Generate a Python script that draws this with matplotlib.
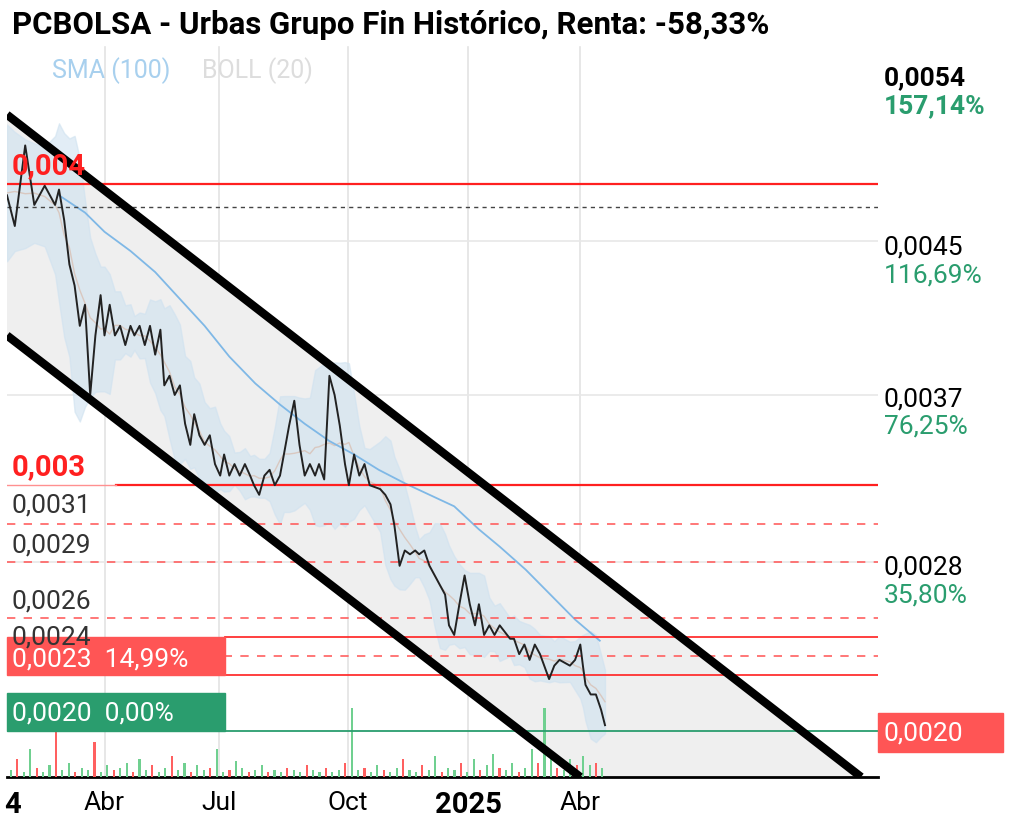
import numpy as np
import pandas as pd
import matplotlib.pyplot as plt
from matplotlib.patches import Rectangle

plt.rcParams['font.family'] = ['Roboto', 'DejaVu Sans']

# days relative to 2025-01-01, price in EUR
days = [-355, -349, -341, -334, -326, -318, -315, -311, -307, -303, -299, -295, -291, -287,
        -283, -280, -276, -272, -268, -264, -260, -257, -253, -249, -245, -241, -237, -234,
        -230, -226, -222, -218, -214, -211, -207, -203, -199, -195, -191, -188, -184, -180,
        -176, -172, -168, -165, -161, -157, -153, -149, -145, -142, -138, -134, -130, -126,
        -122, -118, -115, -111, -107, -103, -99, -95, -92, -88, -84, -80, -76, -68, -64,
        -60, -57, -53, -49, -45, -41, -38, -34, -30, -26, -22, -18, -15, -11, -7, -3, 1,
        5, 8, 12, 16, 20, 24, 32, 35, 39, 43, 47, 51, 55, 62, 66, 70, 78, 82, 86, 88, 90,
        94, 98, 102, 105]
price = [0.00479, 0.00463, 0.00505, 0.00474, 0.00484, 0.00474, 0.00482, 0.00466, 0.00443,
         0.00432, 0.00411, 0.00422, 0.00375, 0.00406, 0.00427, 0.00406, 0.00422, 0.00406,
         0.00411, 0.00401, 0.00411, 0.00406, 0.00411, 0.00401, 0.00411, 0.00396, 0.00409,
         0.00380, 0.00385, 0.00375, 0.00380, 0.00360, 0.00349, 0.00365, 0.00354, 0.00349,
         0.00354, 0.00339, 0.00333, 0.00344, 0.00333, 0.00339, 0.00333, 0.00339, 0.00333,
         0.00328, 0.00323, 0.00333, 0.00336, 0.00328, 0.00333, 0.00344, 0.00359, 0.00372,
         0.00349, 0.00333, 0.00339, 0.00333, 0.00339, 0.00331, 0.00385, 0.00375, 0.00359,
         0.00339, 0.00328, 0.00344, 0.00333, 0.00339, 0.00328, 0.00326, 0.00323, 0.00318,
         0.00307, 0.00286, 0.00294, 0.00292, 0.00294, 0.00292, 0.00294, 0.00286, 0.00281,
         0.00276, 0.00271, 0.00255, 0.00250, 0.00266, 0.00281, 0.00266, 0.00255, 0.00266,
         0.00250, 0.00255, 0.00250, 0.00255, 0.00248, 0.00248, 0.00240, 0.00245, 0.00237,
         0.00245, 0.00240, 0.00227, 0.00234, 0.00237, 0.00234, 0.00237, 0.00245, 0.00234,
         0.00224, 0.00219, 0.00219, 0.00211, 0.00203]

sma_days = [-315, -295, -280, -260, -241, -222, -203, -184, -164, -145, -126, -107, -88,
            -69, -49, -30, -11, 8, 24, 44, 63, 82, 101]
sma_vals = [0.00479, 0.00470, 0.00460, 0.00450, 0.00439, 0.00425, 0.00411, 0.00395, 0.00381,
            0.00370, 0.00360, 0.00351, 0.00344, 0.00336, 0.00329, 0.00323, 0.00317, 0.00305,
            0.00296, 0.00284, 0.00271, 0.00258, 0.00247]

chan_days = [-355, 302]
chan_upper = [0.00521, 0.00176]
chan_lower_days = [-355, 86]
chan_lower = [0.00406, 0.00176]

lvl_solid = [0.00485, 0.00328, 0.00249, 0.00229]
lvl_dashed = [0.00308, 0.00288, 0.00259, 0.00239]
lvl_gray = 0.00473
lvl_base = 0.00200

vol = [3, 8, 2, 12, 4, 2, 5, 20, 3, 6, 2, 4, 3, 15, 2, 5, 3, 4, 6, 2, 8, 3, 5, 2, 4, 9,
       3, 6, 2, 5, 3, 4, 12, 2, 3, 7, 4, 2, 3, 5, 2, 3, 2, 4, 3, 2, 5, 3, 2, 4, 2, 3, 6,
       30, 3, 4, 2, 5, 3, 2, 4, 8, 3, 2, 5, 3, 9, 2, 4, 3, 6, 2, 8, 3, 5, 10, 4, 3, 6, 2,
       4, 12, 6, 30, 10, 4, 3, 8, 5, 9, 5, 6, 4]
vol_up = [i % 3 != 1 for i in range(len(vol))]

xtick_pos = [-351, -280, -192, -93, 0, 86]
xtick_lab = ['4', 'Abr', 'Jul', 'Oct', '2025', 'Abr']
right_prices = ['0,0054', '0,0045', '0,0037', '0,0028']
right_pcts = ['157,14%', '116,69%', '76,25%', '35,80%']

W, H = 1020, 833
fig = plt.figure(figsize=(W / 100, H / 100), dpi=100)
ax = fig.add_axes([7 / W, 1 - 777 / H, 871 / W, 732 / H])
ylo, yhi = 0.00176, 0.005573
ax.set_xlim(-355, 315)
ax.set_ylim(ylo, yhi)

def fx(px):
    return px / W

def fy(py):
    return 1 - py / H

# grid
for t in xtick_pos[1:]:
    ax.axvline(t, color='#e3e3e3', lw=1.2, zorder=0)
for yv in [0.00455, 0.00375, 0.00288]:
    ax.axhline(yv, color='#e8e8e8', lw=1.2, zorder=0)

# channel
xu = np.array(chan_days, float)
yu = np.array(chan_upper)
xl = np.array(chan_lower_days, float)
yl = np.array(chan_lower)
xx = np.linspace(-355, 315, 200)
slope_u = (yu[1] - yu[0]) / (xu[1] - xu[0])
slope_l = (yl[1] - yl[0]) / (xl[1] - xl[0])
up = yu[0] + slope_u * (xx - xu[0])
lo = yl[0] + slope_l * (xx - xl[0])
ax.fill_between(xx, np.maximum(lo, ylo), np.maximum(up, ylo), color='#efefef', zorder=1)
ax.plot(xu, yu, color='black', lw=6, zorder=6, solid_capstyle='butt')
ax.plot(xl, yl, color='black', lw=6, zorder=6, solid_capstyle='butt')

# bollinger
s = pd.Series(price)
mid = s.rolling(8, min_periods=1, center=True).mean()
sd = s.rolling(8, min_periods=2, center=True).std().fillna(0.0001)
ax.fill_between(days, mid + 2 * sd, mid - 2 * sd, color='#cfe2f0', alpha=0.6, zorder=2)
ax.plot(days, mid, color='#d9c8c0', lw=1, zorder=2)
ax.plot(sma_days, sma_vals, color='#7fb8e6', lw=1.3, zorder=3)
ax.plot(days, price, color='#222222', lw=1.4, zorder=5)

# levels
ax.axhline(lvl_solid[0], color='#ff2020', lw=1.6, zorder=4)
ax.plot([-271, 315], [lvl_solid[1]] * 2, color='#ff2020', lw=1.6, zorder=4)
ax.plot([-355, -271], [lvl_solid[1]] * 2, color='#ff9090', lw=1, zorder=4)
for v in lvl_solid[2:]:
    ax.plot([-187, 315], [v, v], color='#ff3030', lw=1.3, zorder=4)
for v in lvl_dashed:
    ax.axhline(v, color='#ff6060', lw=1.2, ls=(0, (5, 5)), zorder=4)
ax.axhline(lvl_gray, color='#444444', lw=1, ls=(0, (3, 3)), zorder=4)
ax.axhline(lvl_base, color='#2a9d6e', lw=1.3, zorder=4)

# volume
vx = np.linspace(-352, 103, len(vol))
vcol = ['#70d090' if u else '#ff6060' for u in vol_up]
ax.bar(vx, np.array(vol) * 0.000012, bottom=ylo, width=1.6, color=vcol, zorder=3)

for sp in ['top', 'left', 'right']:
    ax.spines[sp].set_visible(False)
ax.spines['bottom'].set_linewidth(2)
ax.set_yticks([])
ax.set_xticks(xtick_pos)
ax.set_xticklabels(xtick_lab, fontsize=19)
ax.tick_params(axis='x', length=0, pad=10)
for lab in ax.get_xticklabels():
    if lab.get_text() in ('4', '2025'):
        lab.set_fontweight('bold')
        lab.set_fontsize(21)

# left labels
fig.text(fx(12), fy(166), '0,004', color='#ff2020', fontsize=21, fontweight='bold', va='center')
fig.text(fx(12), fy(467), '0,003', color='#ff2020', fontsize=21, fontweight='bold', va='center')
for yy, t in [(506, '0,0031'), (546, '0,0029'), (601, '0,0026'), (638, '0,0024')]:
    fig.text(fx(12), fy(yy), t, color='#333333', fontsize=19, va='center')
fig.patches.append(Rectangle((fx(7), fy(675)), fx(218), 38 / H, color='#ff5555',
                             transform=fig.transFigure, zorder=2))
fig.text(fx(12), fy(660), '0,0023  14,99%', color='white', fontsize=19, va='center', zorder=3)
fig.patches.append(Rectangle((fx(7), fy(731)), fx(218), 38 / H, color='#2a9d6e',
                             transform=fig.transFigure, zorder=2))
fig.text(fx(12), fy(713), '0,0020  0,00%', color='white', fontsize=19, va='center', zorder=3)

# right labels
rys = [78, 247, 399, 567]
for i, (p, q) in enumerate(zip(right_prices, right_pcts)):
    bold = 'bold' if i == 0 else 'normal'
    fig.text(fx(884), fy(rys[i]), p, color='black', fontsize=19, fontweight=bold, va='center')
    fig.text(fx(884), fy(rys[i] + 28), q, color='#2a9d6e', fontsize=19, fontweight=bold, va='center')
fig.patches.append(Rectangle((fx(878), fy(752)), 125 / W, 39 / H, color='#ff5555',
                             transform=fig.transFigure, zorder=2))
fig.text(fx(884), fy(733), '0,0020', color='white', fontsize=19, va='center', zorder=3)

# title & legend
fig.patches.append(Rectangle((fx(7), fy(45)), 871 / W, 45 / H, color='white',
                             transform=fig.transFigure, zorder=2))
fig.text(fx(12), fy(25), 'PCBOLSA - Urbas Grupo Fin Histórico, Renta: -58,33%',
         fontsize=22.5, fontweight='bold', va='center', zorder=3)
fig.text(fx(52), fy(71), 'SMA (100)', color='#a8d0ee', fontsize=18, va='center')
fig.text(fx(202), fy(71), 'BOLL (20)', color='#dddddd', fontsize=18, va='center')

fig.savefig('out.png', dpi=100)
